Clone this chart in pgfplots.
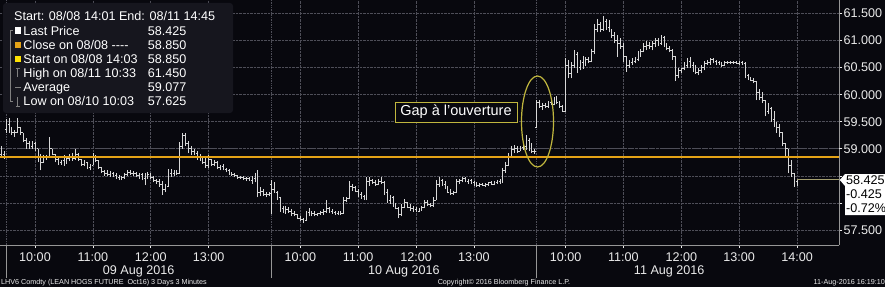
\documentclass[border=0pt]{standalone}
\usepackage{fontspec}
\setmainfont{Liberation Sans}
\usepackage{pgfplots}
\usepackage{pgfplotstable}
\pgfplotsset{compat=1.18}
\definecolor{bgc}{RGB}{8,8,14}
\definecolor{gridc}{RGB}{78,78,88}
\definecolor{barc}{RGB}{215,215,215}
\definecolor{orangel}{RGB}{228,162,22}
\definecolor{purp}{RGB}{92,44,108}
\definecolor{olivec}{RGB}{192,182,62}
\definecolor{lastc}{RGB}{165,160,112}
\definecolor{legc}{RGB}{22,22,30}
\definecolor{sepc}{RGB}{150,150,150}
\definecolor{axc}{RGB}{150,150,150}
\definecolor{tlc}{RGB}{235,235,235}
\newcommand\fa{\fontsize{12.6bp}{14bp}\selectfont}
\newcommand\fs{\fontsize{7.2bp}{8bp}\selectfont}

\pgfplotstableread{
x o h l c
-5 58.90 59.05 58.85 58.90
-2 58.90 58.95 58.82 58.85
0 59.35 59.55 59.30 59.45
3 59.45 59.57 59.30 59.35
6 59.35 59.40 59.25 59.30
9 59.30 59.35 59.22 59.30
12 59.30 59.57 59.30 59.40
15 59.40 59.40 59.25 59.30
18 59.30 59.30 59.12 59.15
21 59.15 59.20 59.00 59.10
24 59.10 59.15 59.00 59.05
27 59.05 59.15 59.00 59.10
30 59.10 59.12 58.95 59.00
33 59.00 59.00 58.75 58.80
36 58.80 58.90 58.60 58.75
39 58.75 58.88 58.75 58.85
42 58.85 58.88 58.80 58.85
45 58.85 59.22 58.85 59.00
48 59.00 59.00 58.88 58.90
51 58.90 58.90 58.75 58.80
54 58.80 58.85 58.70 58.75
57 58.75 58.80 58.70 58.78
60 58.78 58.88 58.68 58.80
63 58.80 58.85 58.72 58.82
66 58.82 58.90 58.78 58.85
69 58.85 58.92 58.78 58.82
72 58.82 59.00 58.80 58.90
75 58.90 58.92 58.78 58.80
78 58.80 58.82 58.68 58.72
81 58.72 58.80 58.68 58.75
84 58.75 58.75 58.62 58.65
87 58.65 58.72 58.60 58.70
90 58.70 58.92 58.70 58.85
93 58.85 58.88 58.75 58.78
96 58.78 58.80 58.62 58.65
99 58.65 58.65 58.55 58.58
102 58.58 58.60 58.50 58.55
105 58.55 58.60 58.50 58.52
108 58.52 58.58 58.48 58.55
111 58.55 58.57 58.47 58.50
114 58.50 58.55 58.45 58.48
117 58.48 58.52 58.42 58.45
120 58.45 58.50 58.42 58.47
123 58.47 58.55 58.45 58.52
126 58.52 58.60 58.50 58.57
129 58.57 58.60 58.52 58.55
132 58.55 58.58 58.50 58.55
135 58.55 58.57 58.47 58.50
138 58.50 58.55 58.45 58.52
141 58.52 58.55 58.42 58.45
144 58.45 58.55 58.33 58.50
147 58.50 58.57 58.45 58.52
150 58.52 58.55 58.45 58.47
153 58.47 58.50 58.38 58.42
156 58.42 58.45 58.35 58.40
159 58.40 58.45 58.30 58.35
162 58.35 58.40 58.15 58.25
165 58.25 58.35 58.20 58.30
168 58.30 58.62 58.30 58.55
171 58.55 58.62 58.48 58.55
174 58.55 58.60 58.50 58.58
177 58.58 58.60 58.52 58.55
180 58.55 59.12 58.55 59.05
183 59.05 59.30 59.00 59.25
186 59.25 59.30 59.05 59.10
189 59.10 59.15 58.92 59.00
192 59.00 59.05 58.88 58.95
195 58.95 59.00 58.88 58.92
198 58.92 58.95 58.80 58.85
201 58.85 58.90 58.78 58.82
204 58.82 58.85 58.72 58.75
207 58.75 58.85 58.65 58.70
210 58.70 58.88 58.65 58.80
213 58.80 58.82 58.68 58.72
216 58.72 58.80 58.68 58.75
219 58.75 58.78 58.62 58.65
222 58.65 58.70 58.60 58.67
225 58.67 58.72 58.60 58.62
228 58.62 58.65 58.57 58.60
231 58.60 58.62 58.52 58.55
234 58.55 58.57 58.50 58.52
237 58.52 58.55 58.47 58.50
240 58.50 58.52 58.45 58.48
243 58.48 58.50 58.45 58.47
246 58.47 58.50 58.42 58.45
249 58.45 58.48 58.40 58.45
252 58.45 58.47 58.40 58.42
255 58.42 58.50 58.35 58.45
258 58.45 58.55 58.38 58.40
261 58.40 58.60 58.10 58.20
264 58.20 58.30 58.12 58.22
267 58.22 58.25 58.12 58.15
270 58.15 58.20 58.10 58.15
273 58.15 58.20 58.12 58.17
275 58.35 58.42 57.80 58.25
278 58.25 58.38 58.18 58.20
281 58.20 58.22 58.05 58.10
284 58.10 58.10 57.83 57.90
287 57.90 57.95 57.82 57.90
290 57.90 57.95 57.80 57.88
293 57.88 57.92 57.82 57.85
296 57.85 57.88 57.75 57.80
299 57.80 57.85 57.75 57.78
302 57.78 57.80 57.70 57.72
305 57.72 57.75 57.67 57.70
308 57.70 57.72 57.625 57.68
311 57.68 57.85 57.67 57.82
314 57.82 57.90 57.75 57.78
317 57.78 57.85 57.75 57.80
320 57.80 57.85 57.75 57.78
323 57.78 57.82 57.75 57.80
326 57.80 57.85 57.78 57.82
329 57.82 57.88 57.78 57.85
332 57.85 58.05 57.82 57.90
335 57.90 57.92 57.82 57.85
338 57.85 57.88 57.80 57.82
341 57.82 57.85 57.78 57.80
344 57.80 57.85 57.78 57.82
347 57.82 57.85 57.78 57.80
350 57.80 58.10 57.80 58.05
353 58.05 58.10 58.02 58.08
356 58.08 58.40 58.08 58.30
359 58.30 58.35 58.22 58.28
362 58.28 58.32 58.20 58.22
365 58.22 58.25 58.10 58.15
368 58.15 58.20 58.08 58.12
371 58.12 58.15 58.05 58.08
374 58.08 58.48 58.05 58.40
377 58.40 58.47 58.32 58.42
380 58.42 58.45 58.35 58.38
383 58.38 58.42 58.32 58.35
386 58.35 58.45 58.33 58.40
389 58.40 58.47 58.35 58.38
392 58.38 58.40 58.15 58.20
395 58.20 58.25 58.00 58.05
398 58.05 58.15 57.98 58.10
401 58.10 58.12 57.92 57.95
404 57.95 58.00 57.88 57.90
407 57.90 57.92 57.72 57.78
410 57.78 57.98 57.75 57.92
413 57.92 58.08 57.90 58.00
416 58.00 58.02 57.90 57.92
419 57.92 57.98 57.85 57.90
422 57.90 57.95 57.83 57.88
425 57.88 57.92 57.83 57.85
428 57.85 57.90 57.83 57.88
431 57.88 57.95 57.85 57.92
434 57.92 58.05 57.90 58.00
437 58.00 58.05 57.95 57.97
440 57.97 58.00 57.92 57.95
443 57.95 58.10 57.93 58.05
446 58.05 58.42 58.05 58.35
449 58.35 58.47 58.30 58.42
452 58.42 58.45 58.32 58.35
455 58.35 58.40 58.25 58.30
458 58.30 58.32 58.18 58.20
461 58.20 58.25 58.15 58.18
464 58.18 58.22 58.15 58.20
467 58.20 58.45 58.18 58.40
470 58.40 58.45 58.35 58.42
473 58.42 58.48 58.38 58.45
476 58.45 58.47 58.38 58.40
479 58.40 58.45 58.35 58.42
482 58.42 58.45 58.35 58.38
485 58.38 58.40 58.32 58.35
488 58.35 58.38 58.30 58.33
491 58.33 58.37 58.30 58.35
494 58.35 58.37 58.32 58.33
497 58.33 58.37 58.30 58.35
500 58.35 58.38 58.32 58.37
503 58.37 58.40 58.33 58.35
506 58.35 58.40 58.33 58.37
509 58.37 58.42 58.35 58.40
512 58.40 58.45 58.35 58.38
515 58.38 58.65 58.37 58.60
518 58.60 58.75 58.55 58.70
521 58.70 58.92 58.70 58.85
524 58.85 59.05 58.83 58.98
527 58.98 59.07 58.92 59.00
530 59.00 59.05 58.92 58.95
533 58.95 59.05 58.95 59.02
536 59.02 59.10 58.98 59.05
539 59.05 59.25 58.98 59.15
542 59.15 59.20 58.95 59.00
545 59.00 59.10 58.92 58.95
548 58.95 59.00 58.90 58.95
550 59.40 59.90 59.38 59.85
553 59.85 59.90 59.75 59.78
556 59.78 59.85 59.72 59.80
559 59.80 59.85 59.75 59.78
562 59.78 59.88 59.75 59.85
565 59.85 59.90 59.80 59.82
568 59.82 59.95 59.80 59.90
571 59.90 59.97 59.82 59.85
574 59.85 59.88 59.75 59.78
577 59.78 59.80 59.68 59.70
580 59.70 60.67 59.68 60.55
583 60.55 60.65 60.30 60.40
586 60.40 60.60 60.30 60.55
589 60.55 60.82 60.50 60.75
592 60.75 60.78 60.40 60.50
595 60.50 60.65 60.45 60.60
598 60.60 60.72 60.48 60.55
601 60.55 60.70 60.55 60.65
604 60.65 60.70 60.58 60.62
607 60.62 60.85 60.60 60.80
610 60.80 61.30 60.75 61.20
613 61.20 61.40 61.15 61.30
616 61.30 61.35 61.15 61.20
619 61.20 61.45 61.18 61.35
622 61.35 61.40 61.20 61.25
625 61.25 61.38 61.15 61.20
628 61.20 61.22 61.05 61.10
631 61.10 61.15 60.95 61.00
634 61.00 61.10 60.70 60.95
637 60.95 61.05 60.85 60.90
640 60.90 60.95 60.60 60.70
643 60.70 60.72 60.42 60.55
646 60.55 60.65 60.50 60.60
649 60.60 60.68 60.55 60.62
652 60.62 60.70 60.58 60.65
655 60.65 60.80 60.62 60.75
658 60.75 60.85 60.70 60.80
661 60.80 60.95 60.78 60.90
664 60.90 61.00 60.82 60.92
667 60.92 60.98 60.85 60.90
670 60.90 61.00 60.82 60.95
673 60.95 61.05 60.88 61.00
676 61.00 61.05 60.90 60.95
679 60.95 61.10 60.92 61.05
682 61.05 61.08 60.88 60.92
685 60.92 60.95 60.82 60.85
688 60.85 60.90 60.78 60.82
691 60.82 60.85 60.65 60.70
694 60.70 60.72 60.25 60.35
697 60.35 60.50 60.30 60.45
700 60.45 60.50 60.40 60.48
703 60.48 60.60 60.45 60.55
706 60.55 60.68 60.50 60.62
709 60.62 60.70 60.50 60.55
712 60.55 60.60 60.42 60.48
715 60.48 60.55 60.38 60.42
718 60.42 60.50 60.36 60.45
721 60.45 60.55 60.40 60.50
724 60.50 60.62 60.45 60.58
727 60.58 60.65 60.55 60.60
730 60.60 60.68 60.55 60.65
733 60.65 60.67 60.58 60.62
736 60.62 60.65 60.55 60.60
739 60.60 60.62 60.55 60.58
742 60.58 60.60 60.52 60.55
745 60.55 60.62 60.53 60.60
748 60.60 60.63 60.57 60.60
751 60.60 60.63 60.57 60.60
754 60.60 60.62 60.57 60.60
757 60.60 60.62 60.57 60.58
760 60.58 60.62 60.55 60.60
763 60.60 60.62 60.55 60.58
766 60.58 60.60 60.30 60.35
769 60.35 60.38 60.27 60.30
772 60.30 60.32 60.25 60.27
775 60.27 60.30 60.22 60.25
778 60.25 60.25 59.90 60.05
781 60.05 60.10 59.90 59.95
784 59.95 60.05 59.85 59.90
787 59.90 59.90 59.60 59.70
790 59.70 59.85 59.65 59.75
793 59.75 59.77 59.50 59.55
796 59.55 59.70 59.40 59.45
799 59.45 59.50 59.30 59.40
802 59.40 59.45 59.22 59.30
805 59.30 59.30 59.05 59.10
808 59.10 59.10 58.85 59.00
811 59.00 59.00 58.55 58.70
814 58.70 58.80 58.48 58.55
817 58.55 58.55 58.30 58.40
820 58.40 58.45 58.32 58.425
}\data

\begin{document}
\begin{tikzpicture}[x=1bp,y=1bp]
\path[use as bounding box] (0,0) rectangle (885,287);
\fill[bgc] (0,0) rectangle (885,287);
\begin{axis}[
  at={(0bp,42bp)}, anchor=south west,
  width=839.3bp, height=245bp, scale only axis,
  xmin=-6.28, xmax=863.8, ymin=57.221, ymax=61.75,
  clip=false,
  axis x line*=bottom, axis y line*=right,
  axis line style={draw=axc, line width=0.8bp, -},
  tick align=outside, major tick length=3bp,
  tick style={draw=tlc, line width=0.6bp},
  xtick={30,90,150,210,305,365,425,485,580,640,700,760,820},
  xticklabels={10:00,11:00,12:00,13:00,10:00,11:00,12:00,13:00,10:00,11:00,12:00,13:00,14:00},
  ytick={57.5,58,58.5,59,59.5,60,60.5,61,61.5},
  yticklabels={57.500,,,59.000,59.500,60.000,60.500,61.000,61.500},
  yticklabel pos=right,
  grid=major,
  major grid style={gridc, densely dotted, line width=0.6bp},
  extra x ticks={0,275,550},
  extra x tick labels={},
  extra x tick style={grid style={sepc, dashed, line width=0.7bp}, major tick length=0pt},
  extra y ticks={59},
  extra y tick labels={},
  extra y tick style={grid style={purp, solid, line width=0.9bp}},
  every tick label/.append style={text=tlc, font=\fa},
  xticklabel style={anchor=base, yshift=-13bp},
  yticklabel style={anchor=west, inner sep=1bp},
]
% high-low bars
\addplot[draw=none, mark=none, forget plot,
  error bars/.cd, y dir=plus, y explicit, error mark=none,
  error bar style={draw=barc, line width=0.75bp, solid}]
  table[x=x, y=l, y error expr=\thisrow{h}-\thisrow{l}] {\data};
% open ticks
\addplot[draw=none, mark=none, forget plot,
  error bars/.cd, x dir=minus, x fixed=1.3, error mark=none,
  error bar style={draw=barc, line width=0.75bp, solid}]
  table[x=x, y=o] {\data};
% close ticks
\addplot[draw=none, mark=none, forget plot,
  error bars/.cd, x dir=plus, x fixed=1.3, error mark=none,
  error bar style={draw=barc, line width=0.75bp, solid}]
  table[x=x, y=c] {\data};
% close on 08/08
\addplot[orangel, line width=1.3bp, forget plot] coordinates {(-6.28,58.85) (863.8,58.85)};
% last price
\addplot[lastc, line width=1bp, forget plot] coordinates {(820,58.425) (863.8,58.425)};
% day separators below axis
\draw[sepc, line width=0.7bp] (axis cs:0,57.221) -- ++(0bp,-33bp);
\draw[sepc, line width=0.7bp] (axis cs:275,57.221) -- ++(0bp,-33bp);
\draw[sepc, line width=0.7bp] (axis cs:550,57.221) -- ++(0bp,-33bp);
\node[anchor=base, text=tlc, font=\fa, yshift=-29.5bp] at (axis cs:137.5,57.221) {09 Aug 2016};
\node[anchor=base, text=tlc, font=\fa, yshift=-29.5bp] at (axis cs:412.5,57.221) {10 Aug 2016};
\node[anchor=base, text=tlc, font=\fa, yshift=-29.5bp] at (axis cs:687.5,57.221) {11 Aug 2016};
\end{axis}
% legend box
\fill[legc, rounded corners=3bp] (3,284) rectangle (233,174);
\draw[gray, line width=0.6bp] (13,256.5) -- (10,256.5) -- (10,185.5) -- (13,185.5);
\node[anchor=base west, text=white, font=\fa, inner sep=0] at (14,266.5) {Start: 08/08 14:01 End: 08/11 14:45};
\fill[white] (14.8,253.5) rectangle ++(6,6);
\node[anchor=base west, text=white, font=\fa, inner sep=0] at (23.3,252) {Last Price};
\node[anchor=base east, text=white, font=\fa, inner sep=0] at (186.7,252) {58.425};
\fill[orangel] (14.8,239.5) rectangle ++(6,6);
\node[anchor=base west, text=white, font=\fa, inner sep=0] at (23.3,238) {Close on 08/08 -{}-{}-{}-};
\node[anchor=base east, text=white, font=\fa, inner sep=0] at (186.7,238) {58.850};
\fill[yellow!85!orange] (14.8,225) rectangle ++(6,6);
\node[anchor=base west, text=white, font=\fa, inner sep=0] at (23.3,223.5) {Start on 08/08 14:03};
\node[anchor=base east, text=white, font=\fa, inner sep=0] at (186.7,223.5) {58.850};
\draw[gray, line width=0.7bp] (15.8,219) -- (19.8,219) (17.8,219) -- (17.8,210);
\node[anchor=base west, text=white, font=\fa, inner sep=0] at (23.3,209.5) {High on 08/11 10:33};
\node[anchor=base east, text=white, font=\fa, inner sep=0] at (186.7,209.5) {61.450};
\draw[gray, line width=0.8bp] (15,199.8) -- (20.6,199.8);
\node[anchor=base west, text=white, font=\fa, inner sep=0] at (23.3,195.3) {Average};
\node[anchor=base east, text=white, font=\fa, inner sep=0] at (186.7,195.3) {59.077};
\draw[gray, line width=0.7bp] (15.8,181) -- (19.8,181) (17.8,181) -- (17.8,190);
\node[anchor=base west, text=white, font=\fa, inner sep=0] at (23.3,181.3) {Low on 08/10 10:03};
\node[anchor=base east, text=white, font=\fa, inner sep=0] at (186.7,181.3) {57.625};
% annotation
\node[draw=olivec, line width=1bp, fill=bgc, text=white, font=\fontsize{14.5bp}{16bp}\selectfont,
  minimum width=122bp, minimum height=20bp, inner sep=1bp] at (456,175) {Gap à l'ouverture};
\draw[olivec, line width=1.2bp] (537.5,165.5) ellipse [x radius=16, y radius=45.5];
% last price label
\fill[white] (839.8,107) -- (845,113) -- (885,113) -- (885,72) -- (845,72) -- (845,101) -- cycle;
\node[anchor=base west, text=black, font=\fa, inner sep=0] at (846,102.5) {58.425};
\node[anchor=base west, text=black, font=\fa, inner sep=0] at (846,88.5) {-0.425};
\node[anchor=base west, text=black, font=\fa, inner sep=0] at (846,74.5) {-0.72\%};
% footer
\node[anchor=base west, text=tlc, font=\fs, inner sep=0] at (1,2.5) {LHV6 Comdty (LEAN HOGS FUTURE\ \ Oct16) 3 Days 3 Minutes};
\node[anchor=base, text=tlc, font=\fs, inner sep=0] at (504,2.5) {Copyright© 2016 Bloomberg Finance L.P.};
\node[anchor=base east, text=tlc, font=\fs, inner sep=0] at (885,2.5) {11-Aug-2016 16:19:10};
\end{tikzpicture}
\end{document}
